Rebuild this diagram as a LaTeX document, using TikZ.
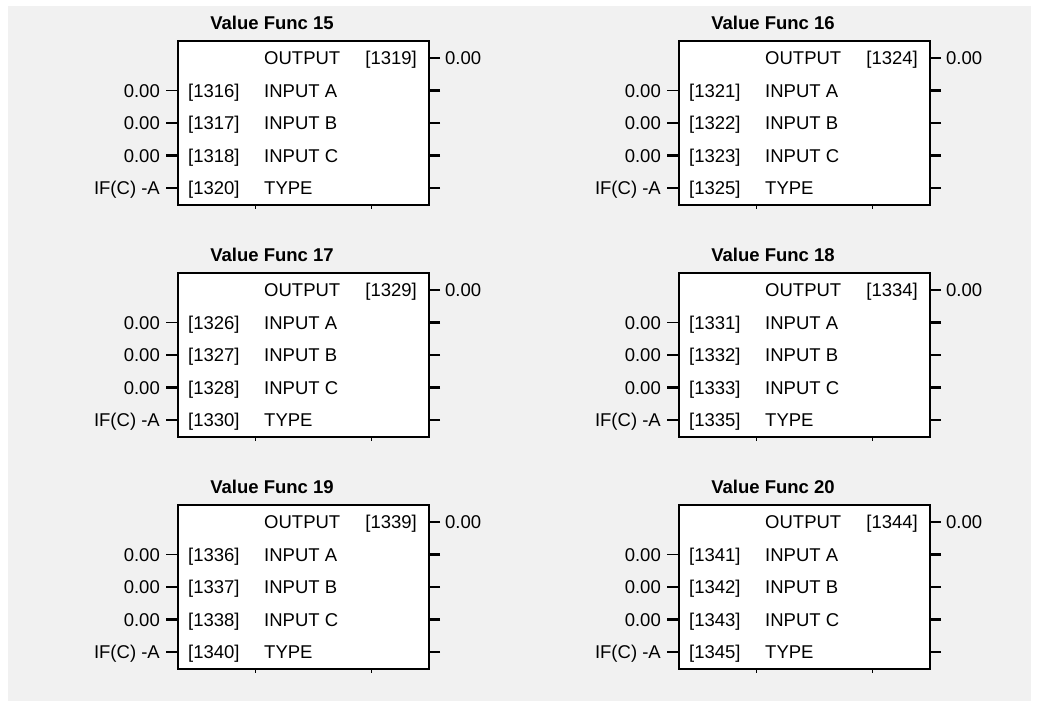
\documentclass[tikz,border=0pt]{standalone}
\usepackage{fontspec}
\setmainfont{Liberation Sans}
\definecolor{panelgray}{HTML}{F1F1F1}
\tikzset{
  fblock/.style={draw, line width=1.8pt, fill=white, anchor=north west,
    minimum width=251pt, minimum height=164pt, inner sep=0pt},
  ftext/.style={inner sep=0pt, text height=13pt, text depth=0pt,
    font=\fontsize{18.5}{20}\selectfont},
  ftitle/.style={ftext, font=\fontsize{18.5}{20}\selectfont\bfseries},
  stub/.style={line width=2.5pt},
}

\begin{document}
\begin{tikzpicture}[x=1pt,y=-1pt]
  \useasboundingbox (0,0) rectangle (1037,704);
  \fill[panelgray] (8,6) rectangle (1031,701);

  % one block per value function
  \foreach \ox/\oy/\n in {177/40/15, 678/40/16, 177/272/17, 678/272/18, 177/504/19, 678/504/20}{
    \pgfmathtruncatemacro\pa{1316+(\n-15)*5}
    \pgfmathtruncatemacro\pb{\pa+1}
    \pgfmathtruncatemacro\pc{\pa+2}
    \pgfmathtruncatemacro\po{\pa+3}
    \pgfmathtruncatemacro\pt{\pa+4}
    \node[fblock] (vf\n) at (\ox,\oy) {};
    \node[ftitle] (vf\n-title) at ([shift={(95,-17)}]vf\n.north west) {Value Func \n};

    % output row
    \node[ftext, anchor=west] (vf\n-out) at ([shift={(87,18)}]vf\n.north west) {OUTPUT};
    \node[ftext, anchor=east] (vf\n-po) at ([shift={(240,18)}]vf\n.north west) {[\po]};
    \node[ftext, anchor=west] (vf\n-ov) at ([shift={(268,18)}]vf\n.north west) {0.00};
    \draw[stub, shorten <=5pt] (vf\n-ov.west) -- (vf\n-ov.west -| vf\n.east);

    % input rows
    \foreach \i/\p/\nm/\v in {1/\pa/INPUT A/0.00, 2/\pb/INPUT B/0.00, 3/\pc/INPUT C/0.00, 4/\pt/TYPE/IF(C) -A}{
      \pgfmathsetmacro\yc{18+32.5*\i}
      \pgfmathsetmacro\lw{\i==1 ? 1.2 : 2.5}
      \node[ftext, anchor=west] (vf\n-p\i) at ([shift={(11,\yc)}]vf\n.north west) {[\p]};
      \node[ftext, anchor=west] (vf\n-nm\i) at ([shift={(87,\yc)}]vf\n.north west) {\nm};
      \node[ftext, anchor=east] (vf\n-v\i) at ([shift={(-17,\yc)}]vf\n.north west) {\v};
      \draw[line width=\lw pt, shorten <=6pt] (vf\n-v\i.east) -- (vf\n-v\i.east -| vf\n.west);
      \coordinate (vf\n-e\i) at ([shift={(263,\yc)}]vf\n.north west);
      \draw[stub] (vf\n-e\i) -- (vf\n-e\i -| vf\n.east);
    }

    % ticks under the box
    \draw[line width=1pt] ([xshift=78pt]vf\n.south west) -- ++(0,3);
    \draw[line width=1pt] ([xshift=194pt]vf\n.south west) -- ++(0,3);
  }
\end{tikzpicture}
\end{document}
